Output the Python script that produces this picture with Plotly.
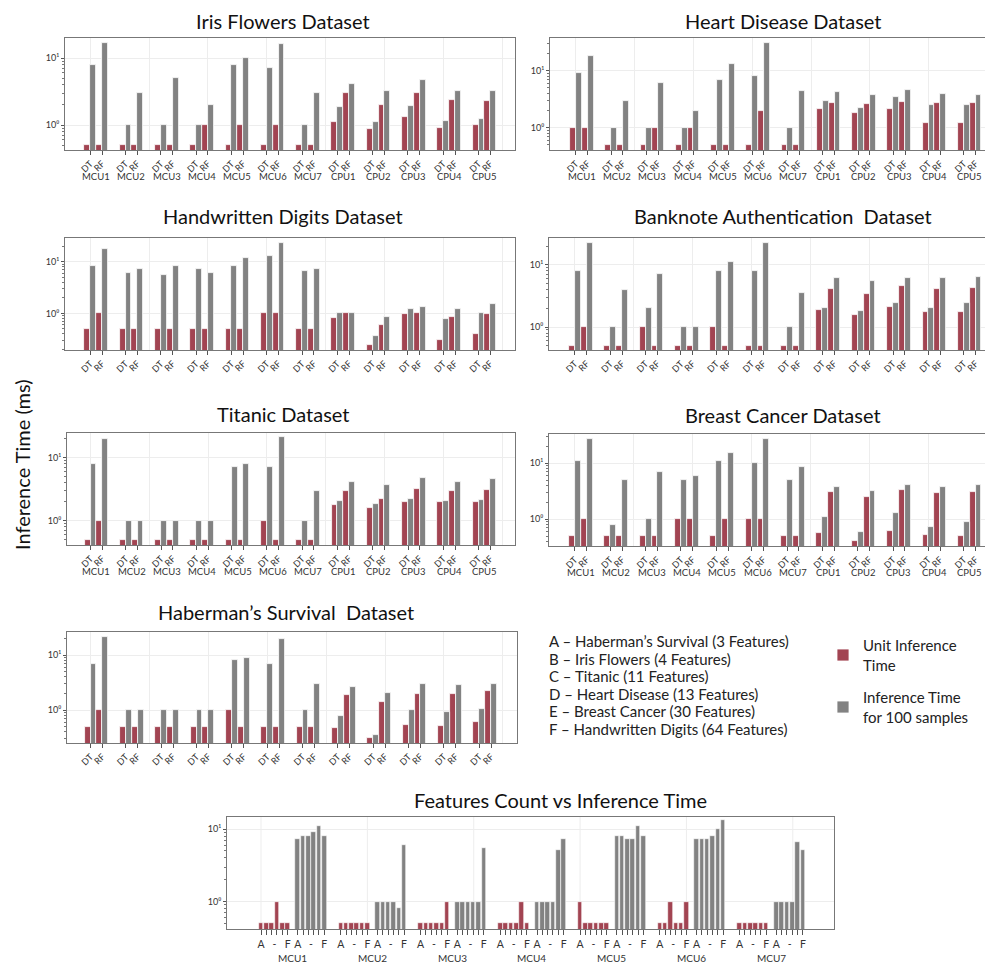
import plotly.graph_objects as go

W, H = 993, 966          # browser window
OFF = 8                  # default body margin of the page
FIG_W, FIG_H = W - OFF, H - OFF
RED = "#A24452"
GREY = "#828282"
FONT = "Lato"

DEVICES = ["MCU1", "MCU2", "MCU3", "MCU4", "MCU5", "MCU6", "MCU7",
           "CPU1", "CPU2", "CPU3", "CPU4", "CPU5"]
MODELS = ["DT", "RF"]
MCUS = DEVICES[:7]
FEATURE_LABELS = ["A", "-", "F"]
Y_TICK_VALS = [1, 10]
Y_TICK_TEXT = ["10⁰", "10¹"]

# ---------------- data (ms, log scale) ----------------
IRIS_DT_UNIT = [0.5, 0.5, 0.5, 0.5, 0.5, 0.5, 0.5, 1.1, 0.88, 1.32, 0.91, 1.0]
IRIS_DT_100 = [8, 1, 1, 1, 8, 7, 1, 1.88, 1.1, 1.94, 1.16, 1.24]
IRIS_RF_UNIT = [0.5, 0.5, 0.5, 1, 1, 1, 0.5, 3.0, 2.0, 3.0, 2.36, 2.28]
IRIS_RF_100 = [17, 3, 5, 2, 10, 16, 3, 4.1, 3.2, 4.7, 3.25, 3.25]

HEART_DT_UNIT = [1, 0.5, 0.5, 0.5, 0.5, 0.5, 0.5, 2.13, 1.81, 2.13, 1.22, 1.19]
HEART_DT_100 = [9.1, 1, 1, 1, 7, 8, 1, 3.0, 2.22, 3.48, 2.48, 2.55]
HEART_RF_UNIT = [1, 0.5, 1, 1, 0.5, 2, 0.5, 2.69, 2.65, 2.84, 2.76, 2.76]
HEART_RF_100 = [18, 3, 6, 2, 13, 31, 4.5, 4.26, 3.77, 4.62, 3.93, 3.72]

DIGITS_DT_UNIT = [0.5, 0.5, 0.5, 0.5, 0.5, 1, 0.5, 0.81, 0.24, 0.96, 0.30, 0.40]
DIGITS_DT_100 = [8.2, 6.1, 5.5, 7.2, 8.1, 13.1, 6.7, 1.03, 0.37, 1.21, 0.78, 1.0]
DIGITS_RF_UNIT = [1, 0.5, 0.5, 0.5, 0.5, 1, 0.5, 1.0, 0.61, 1.03, 0.85, 0.96]
DIGITS_RF_100 = [17.4, 7.2, 8.1, 6.1, 12, 23.5, 7.2, 1.03, 0.85, 1.31, 1.21, 1.52]

BANK_DT_UNIT = [0.5, 0.5, 1, 0.5, 1, 0.5, 0.5, 1.91, 1.55, 2.08, 1.73, 1.77]
BANK_DT_100 = [8, 1, 2, 1, 8, 8, 1, 2.03, 1.84, 2.42, 2.06, 2.48]
BANK_RF_UNIT = [1, 0.5, 0.5, 0.5, 0.5, 0.5, 0.5, 4.08, 3.39, 4.5, 4.08, 4.24]
BANK_RF_100 = [22, 4, 7, 1, 11, 22, 3.5, 6.1, 5.4, 6.1, 6.2, 6.4]

TITANIC_DT_UNIT = [0.5, 0.5, 0.5, 0.5, 0.5, 1, 0.5, 1.77, 1.59, 1.98, 1.95, 1.98]
TITANIC_DT_100 = [8, 1, 1, 1, 7, 7, 1, 2.03, 1.86, 2.21, 2.03, 2.15]
TITANIC_RF_UNIT = [1, 0.5, 0.5, 0.5, 0.5, 0.5, 0.5, 2.92, 2.21, 3.14, 2.92, 3.07]
TITANIC_RF_100 = [20, 1, 1, 1, 8, 21, 3, 4.16, 3.68, 4.7, 4.06, 4.53]

BREAST_DT_UNIT = [0.5, 0.5, 0.5, 1, 0.5, 1, 0.5, 0.57, 0.41, 0.62, 0.53, 0.5]
BREAST_DT_100 = [11, 0.8, 1, 5, 11, 10, 5, 1.09, 0.59, 1.3, 0.74, 0.9]
BREAST_RF_UNIT = [1, 0.5, 0.5, 1, 1, 1, 0.5, 3.12, 2.5, 3.3, 2.91, 3.03]
BREAST_RF_100 = [26.5, 5, 7, 6, 15, 27, 8.6, 3.83, 3.16, 4.05, 3.83, 4.05]

HABERMAN_DT_UNIT = [0.5, 0.5, 0.5, 0.5, 1, 0.5, 0.5, 0.48, 0.31, 0.54, 0.52, 0.6]
HABERMAN_DT_100 = [7, 1, 1, 1, 8, 7, 1, 0.79, 0.35, 0.99, 0.93, 1.06]
HABERMAN_RF_UNIT = [1, 0.5, 0.5, 0.5, 0.5, 0.5, 0.5, 1.9, 1.4, 1.95, 1.95, 2.25]
HABERMAN_RF_100 = [21, 1, 1, 1, 9, 20, 3, 2.62, 2.04, 2.97, 2.89, 3.0]

# Features count vs inference time (DT), per MCU, features A..F
FEAT_UNIT = [
    [0.5, 0.5, 0.5, 1, 0.5, 0.5],
    [0.5, 0.5, 0.5, 0.5, 0.5, 0.5],
    [0.5, 0.5, 0.5, 0.5, 0.5, 1],
    [0.5, 0.5, 0.5, 0.5, 1, 0.5],
    [1, 0.5, 0.5, 0.5, 0.5, 0.5],
    [0.5, 0.5, 1, 0.5, 0.5, 1],
    [0.5, 0.5, 0.5, 0.5, 0.5, 0.5],
]
FEAT_100 = [
    [7.2, 8.1, 8.1, 9.0, 11, 8.1],
    [1, 1, 1, 1, 0.81, 6.1],
    [1, 1, 1, 1, 1, 5.5],
    [1, 1, 1, 1, 5.1, 7.2],
    [8.1, 8.1, 7.2, 7.2, 11, 8.1],
    [7.2, 7.2, 7.2, 8.1, 10.1, 13.2],
    [1, 1, 1, 1, 6.6, 5.1],
]

LEGEND_LINES = [
    "A – Haberman’s Survival (3 Features)",
    "B – Iris Flowers (4 Features)",
    "C – Titanic (11 Features)",
    "D – Heart Disease (13 Features)",
    "E – Breast Cancer (30 Features)",
    "F – Handwritten Digits (64 Features)",
]

# ---------------- layout description (window pixels) ----------------
PANELS = [
    dict(title="Iris Flowers Dataset", d=(IRIS_DT_UNIT, IRIS_DT_100, IRIS_RF_UNIT, IRIS_RF_100),
         box=(65, 515, 38, 150), yr=(-0.373, 1.30), xr=(-2.15, 36.1), dev=True, t=(283, 21)),
    dict(title="Heart Disease Dataset", d=(HEART_DT_UNIT, HEART_DT_100, HEART_RF_UNIT, HEART_RF_100),
         box=(550, 985, 38, 150), yr=(-0.394, 1.58), xr=(-2.2, 34.8), dev=True, t=(783, 21)),
    dict(title="Handwritten Digits Dataset", d=(DIGITS_DT_UNIT, DIGITS_DT_100, DIGITS_RF_UNIT, DIGITS_RF_100),
         box=(65, 515, 238, 350), yr=(-0.708, 1.46), xr=(-2.15, 36.1), dev=False, t=(283, 216)),
    dict(title="Banknote Authentication  Dataset", d=(BANK_DT_UNIT, BANK_DT_100, BANK_RF_UNIT, BANK_RF_100),
         box=(549, 985, 238, 350), yr=(-0.368, 1.43), xr=(-2.2, 34.8), dev=False, t=(783, 216)),
    dict(title="Titanic Dataset", d=(TITANIC_DT_UNIT, TITANIC_DT_100, TITANIC_RF_UNIT, TITANIC_RF_100),
         box=(67, 515, 433, 545), yr=(-0.386, 1.39), xr=(-2.0, 36.1), dev=True, t=(283, 414)),
    dict(title="Breast Cancer Dataset", d=(BREAST_DT_UNIT, BREAST_DT_100, BREAST_RF_UNIT, BREAST_RF_100),
         box=(549, 985, 434, 546), yr=(-0.476, 1.52), xr=(-2.2, 34.8), dev=True, t=(783, 415)),
    dict(title="Haberman’s Survival  Dataset", d=(HABERMAN_DT_UNIT, HABERMAN_DT_100, HABERMAN_RF_UNIT, HABERMAN_RF_100),
         box=(67, 517, 632, 743), yr=(-0.60, 1.42), xr=(-2.0, 36.2), dev=False, t=(286, 612)),
]
FEAT_BOX = (227, 834, 817, 929)
FEAT_YR = (-0.377, 1.166)
FEAT_XR = (-1.28, 21.55)


def px_x(v):
    return (v - OFF) / FIG_W


def px_y(v):
    return 1 - (v - OFF) / FIG_H


MINOR_LOG = [0.2, 0.3, 0.4, 0.5, 0.6, 0.7, 0.8, 0.9, 2, 3, 4, 5, 6, 7, 8, 9, 20, 30, 40]
AXIS_LINE = dict(showline=True, mirror=True, linecolor="#777", linewidth=1, zeroline=False)


def log_yaxis(domain, yr, anchor):
    return dict(
        domain=domain, type="log", range=list(yr), anchor=anchor,
        tickmode="array", tickvals=Y_TICK_VALS, ticktext=Y_TICK_TEXT,
        tickfont=dict(size=9, color="#333", family=FONT), ticks="outside", ticklen=3,
        tickcolor="#555", showgrid=True, gridcolor="#ededed",
        minor=dict(tickvals=MINOR_LOG, ticks="outside", ticklen=2, tickcolor="#777", showgrid=False),
        **AXIS_LINE,
    )


fig = go.Figure()
annotations = []
shapes = []
layout = {}

BAR_W = 0.5
for k, p in enumerate(PANELS, start=1):
    dt_u, dt_h, rf_u, rf_h = p["d"]
    dt_pos = [3 * i for i in range(len(DEVICES))]
    rf_pos = [3 * i + 1 for i in range(len(DEVICES))]
    xs_red = [x - BAR_W / 2 for x in dt_pos] + [x - BAR_W / 2 for x in rf_pos]
    xs_grey = [x + BAR_W / 2 for x in dt_pos] + [x + BAR_W / 2 for x in rf_pos]
    xa = "x" if k == 1 else f"x{k}"
    ya = "y" if k == 1 else f"y{k}"
    fig.add_trace(go.Bar(x=xs_red, y=list(dt_u) + list(rf_u), width=BAR_W,
                         marker=dict(color=RED, line=dict(color="white", width=0.8)),
                         name="Unit Inference<br>Time", legendgroup="unit",
                         showlegend=(k == 1), xaxis=xa, yaxis=ya))
    fig.add_trace(go.Bar(x=xs_grey, y=list(dt_h) + list(rf_h), width=BAR_W,
                         marker=dict(color=GREY, line=dict(color="white", width=0.8)),
                         name="Inference Time<br>for 100 samples", legendgroup="hundred",
                         showlegend=(k == 1), xaxis=xa, yaxis=ya))
    x0, x1, y0, y1 = p["box"]
    tickvals = sorted(dt_pos + rf_pos)
    ticktext = [MODELS[0] if v % 3 == 0 else MODELS[1] for v in tickvals]
    layout["xaxis" if k == 1 else f"xaxis{k}"] = dict(
        domain=[px_x(x0), px_x(x1)], range=list(p["xr"]), anchor=ya,
        tickmode="array", tickvals=tickvals, ticktext=ticktext, tickangle=-45,
        tickfont=dict(size=9, color="#333", family=FONT), ticks="outside", ticklen=4,
        tickcolor="#555", showgrid=False,
        minor=dict(tickmode="linear", tick0=0, dtick=5, showgrid=True,
                   gridcolor="#ededed", gridwidth=1, ticks=""),
        **AXIS_LINE,
    )
    layout["yaxis" if k == 1 else f"yaxis{k}"] = log_yaxis([px_y(y1), px_y(y0)], p["yr"], xa)
    annotations.append(dict(text=p["title"], xref="paper", yref="paper",
                            x=px_x(p["t"][0]), y=px_y(p["t"][1]), showarrow=False,
                            xanchor="center", yanchor="middle",
                            font=dict(size=20, color="#111", family=FONT)))
    if p["dev"]:
        for i, name in enumerate(DEVICES):
            annotations.append(dict(text=name, xref=xa, yref="paper", x=3 * i + 0.5,
                                    y=px_y(y1 + 26), showarrow=False, xanchor="center",
                                    yanchor="middle", font=dict(size=9.5, color="#333", family=FONT)))

# ---------------- features panel ----------------
k = len(PANELS) + 1
xa, ya = f"x{k}", f"y{k}"
GROUP_STEP, BAR_STEP, GREY_OFF, FW = 3.0, 0.2, 1.38, 0.17
N_FEAT = len(FEAT_UNIT[0])
red_x, red_y, grey_x, grey_y = [], [], [], []
all_ticks, lab_ticks, lab_text = [], [], []
for g, name in enumerate(MCUS):
    for base in (g * GROUP_STEP, g * GROUP_STEP + GREY_OFF):
        lab_ticks += [base, base + 2.5 * BAR_STEP, base + (N_FEAT - 1) * BAR_STEP]
        lab_text += FEATURE_LABELS
    for j in range(N_FEAT):
        rx = g * GROUP_STEP + j * BAR_STEP
        gx = g * GROUP_STEP + GREY_OFF + j * BAR_STEP
        red_x.append(rx); red_y.append(FEAT_UNIT[g][j])
        grey_x.append(gx); grey_y.append(FEAT_100[g][j])
        all_ticks += [rx, gx]
    annotations.append(dict(text=name, xref=xa, yref="paper",
                            x=g * GROUP_STEP + (GREY_OFF + (N_FEAT - 1) * BAR_STEP) / 2,
                            y=px_y(958), showarrow=False, xanchor="center", yanchor="middle",
                            font=dict(size=10, color="#333", family=FONT)))

fig.add_trace(go.Bar(x=red_x, y=red_y, width=FW, marker=dict(color=RED, line=dict(color="white", width=0.6)),
                     showlegend=False, xaxis=xa, yaxis=ya, name="Unit Inference Time"))
fig.add_trace(go.Bar(x=grey_x, y=grey_y, width=FW, marker=dict(color=GREY, line=dict(color="white", width=0.6)),
                     showlegend=False, xaxis=xa, yaxis=ya, name="Inference Time for 100 samples"))
x0, x1, y0, y1 = FEAT_BOX
layout[f"xaxis{k}"] = dict(
    domain=[px_x(x0), px_x(x1)], range=list(FEAT_XR), anchor=ya,
    tickmode="array", tickvals=lab_ticks, ticktext=lab_text, tickangle=0,
    tickfont=dict(size=10.5, color="#333", family=FONT), ticks="outside", ticklen=5,
    tickcolor="rgba(0,0,0,0)", showgrid=False,
    minor=dict(tickvals=sorted(all_ticks), ticks="outside", ticklen=5, tickcolor="#555",
               showgrid=False),
    **AXIS_LINE,
)
layout[f"yaxis{k}"] = log_yaxis([px_y(y1), px_y(y0)], FEAT_YR, xa)
for gx in range(0, 21, 4):
    shapes.append(dict(type="line", xref=xa, yref=f"{ya} domain", x0=gx, x1=gx, y0=0, y1=1,
                       line=dict(color="#ededed", width=1), layer="below"))
annotations.append(dict(text="Features Count vs Inference Time", xref="paper", yref="paper",
                        x=px_x(560), y=px_y(800), showarrow=False, xanchor="center", yanchor="middle",
                        font=dict(size=20, color="#111", family=FONT)))

# ---------------- texts ----------------
annotations.append(dict(text="Inference Time (ms)", xref="paper", yref="paper",
                        x=px_x(22), y=px_y(465), showarrow=False, textangle=-90,
                        xanchor="center", yanchor="middle",
                        font=dict(size=20, color="#111", family=FONT)))
for i, line in enumerate(LEGEND_LINES):
    annotations.append(dict(text=line, xref="paper", yref="paper", x=px_x(547),
                            y=px_y(641 + i * 17.6), showarrow=False, xanchor="left",
                            yanchor="middle", font=dict(size=15, color="#222", family=FONT)))

fig.update_layout(
    width=FIG_W, height=FIG_H, autosize=False,
    margin=dict(l=0, r=0, t=0, b=0),
    paper_bgcolor="white", plot_bgcolor="white",
    barmode="overlay", bargap=0,
    annotations=annotations, shapes=shapes,
    showlegend=True,
    legend=dict(x=px_x(823), y=px_y(629), xanchor="left", yanchor="top",
                font=dict(size=15, color="#222", family=FONT),
                tracegroupgap=10, traceorder="grouped", bgcolor="rgba(0,0,0,0)"),
    **layout,
)

fig.write_html("out.html")
